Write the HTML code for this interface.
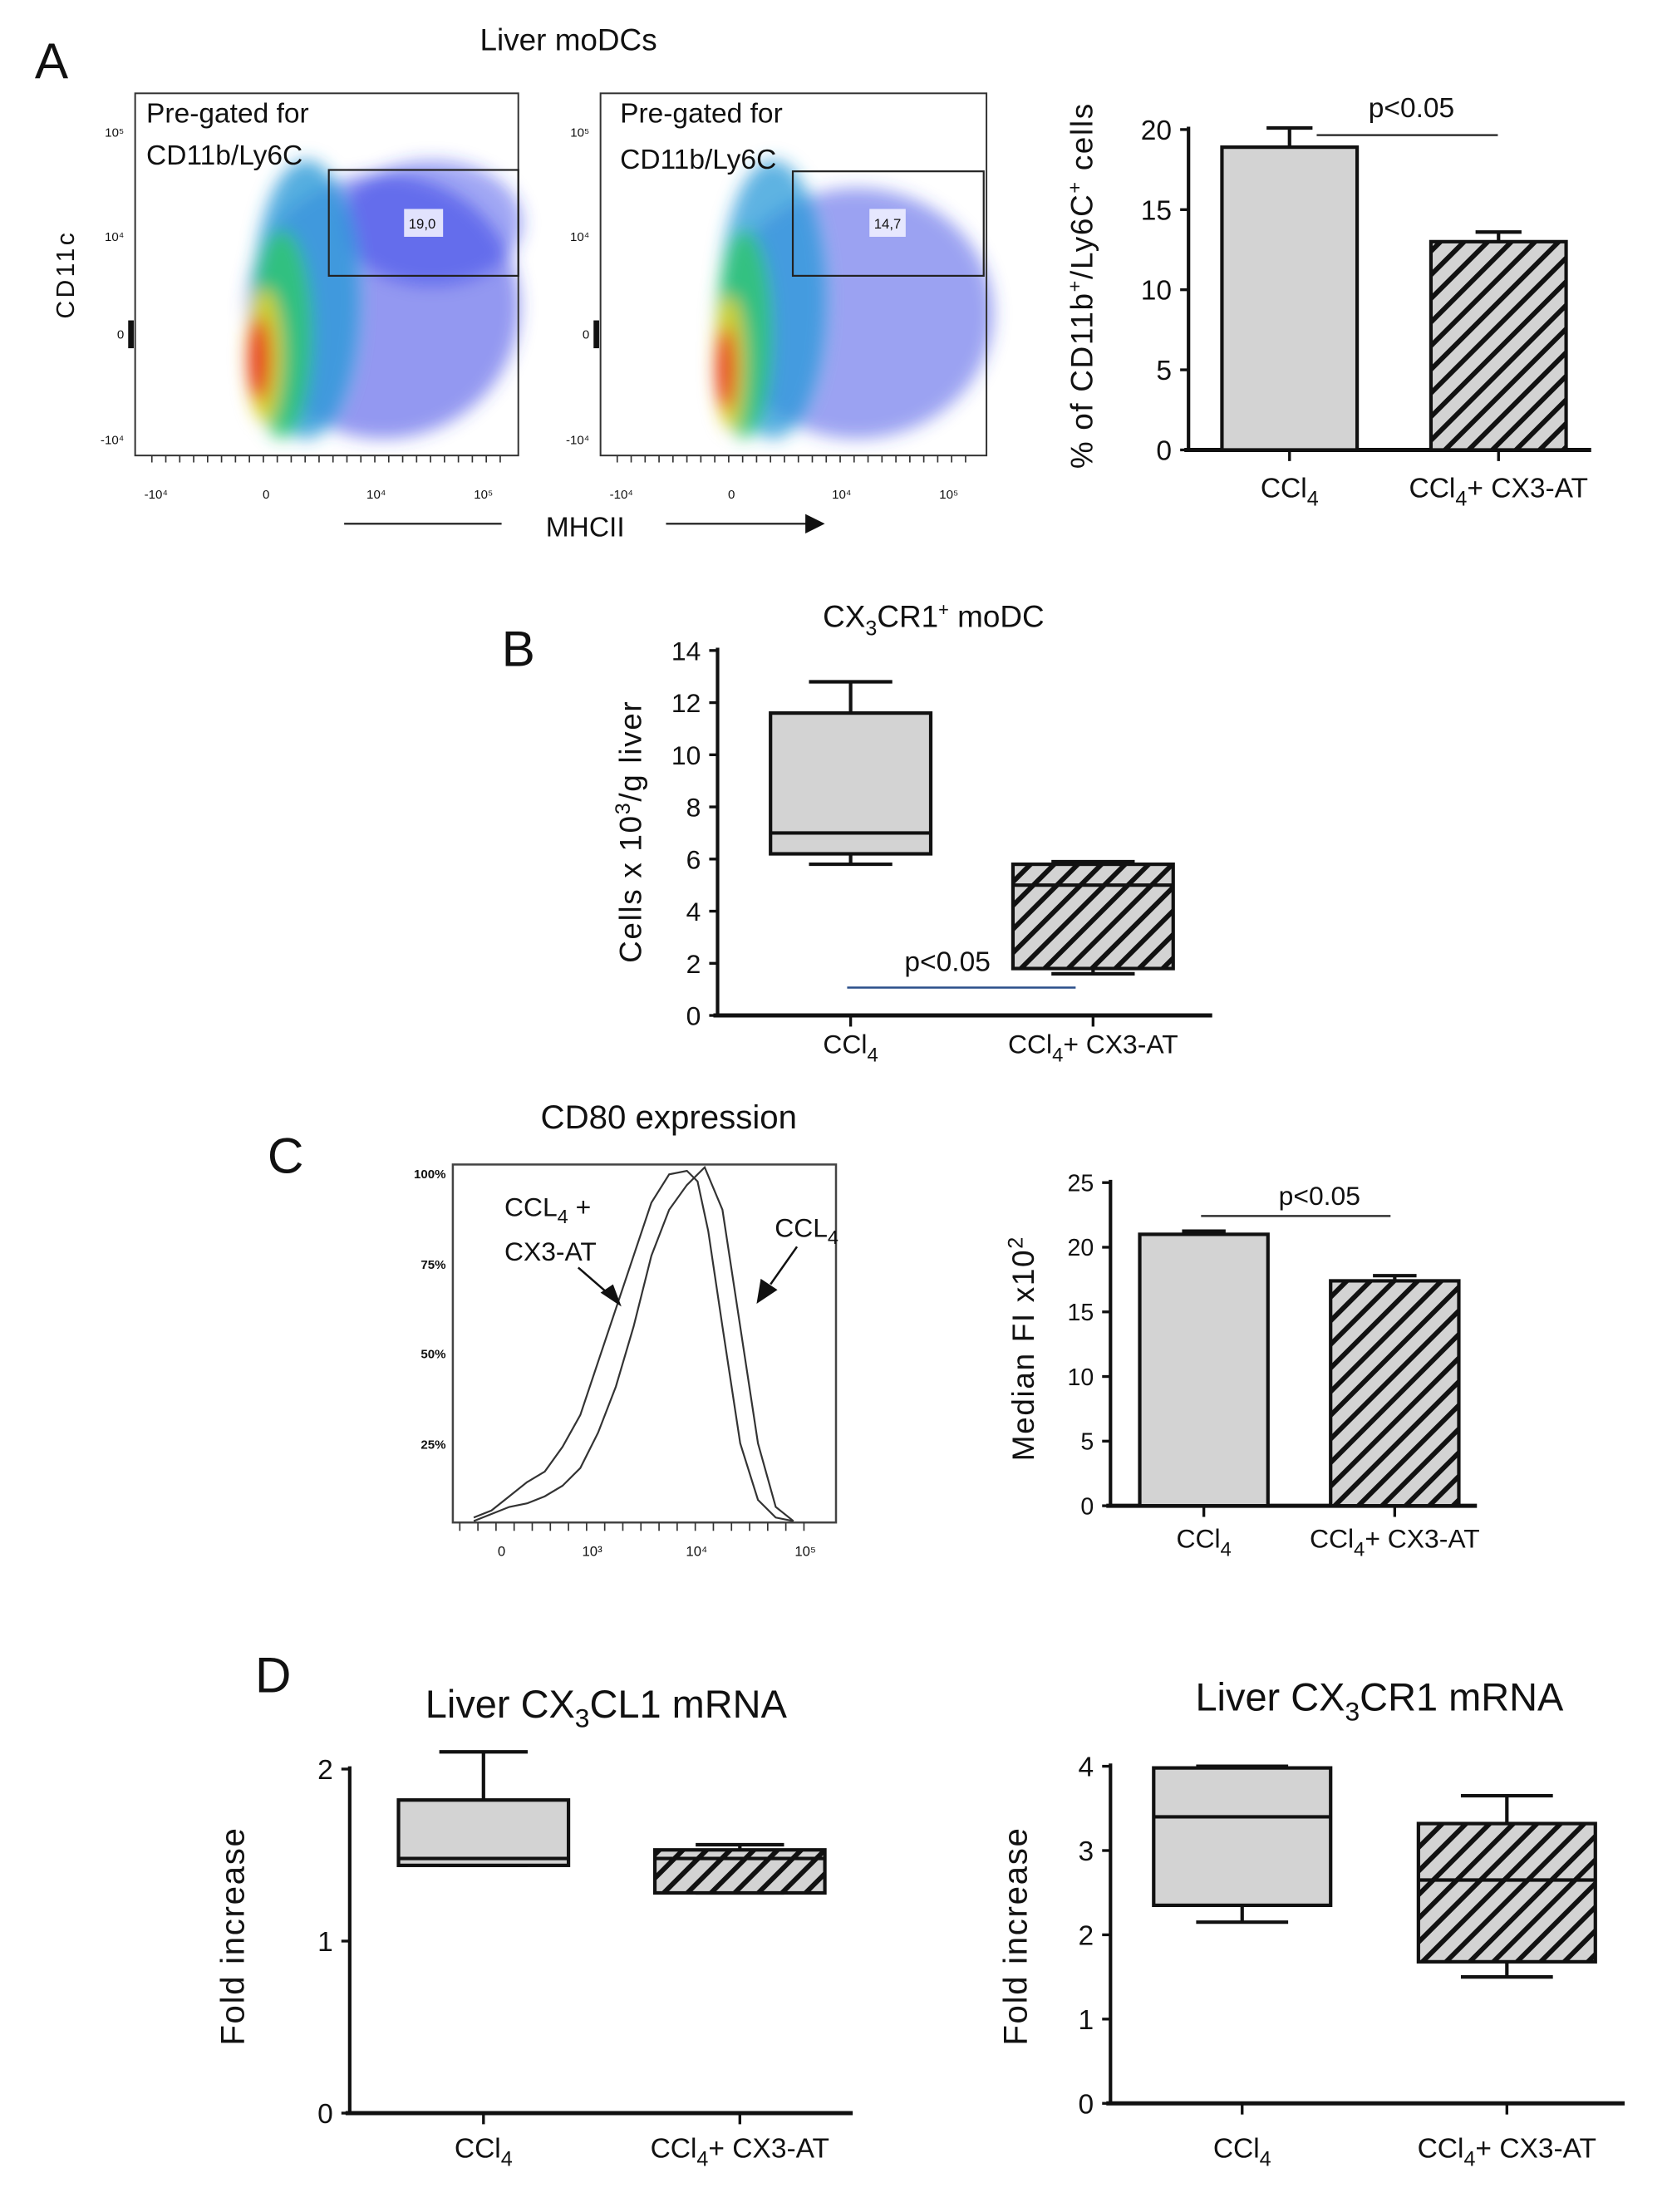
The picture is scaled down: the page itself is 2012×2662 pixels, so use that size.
<!DOCTYPE html>
<html><head><meta charset="utf-8"><title>Liver moDC figure</title>
<style>
html,body{margin:0;padding:0;background:#fff;}
svg{display:block;}
text{font-family:"Liberation Sans",sans-serif;fill:#111;}
</style></head>
<body>
<svg id="fig" xmlns="http://www.w3.org/2000/svg" width="2012" height="2662" viewBox="0 0 1200 1588" preserveAspectRatio="none">
<defs>
<pattern id="hatch" patternUnits="userSpaceOnUse" width="12" height="12" patternTransform="rotate(45)">
<rect width="12" height="12" fill="#d3d3d3"/><rect x="0" y="0" width="3.5" height="12" fill="#111"/>
</pattern>
<filter id="blur6"><feGaussianBlur stdDeviation="6"/></filter>
</defs>

<!-- Panel A -->
<text x="25" y="56" font-size="36">A</text>
<text x="408" y="36" font-size="22" text-anchor="middle">Liver moDCs</text>

<g>
<g filter="url(#blur6)">
<ellipse cx="275" cy="220" rx="98" ry="95" fill="#3a46e6" opacity="0.55"/>
<ellipse cx="310" cy="160" rx="65" ry="45" fill="#2a3ae6" opacity="0.45"/>
<ellipse cx="220" cy="215" rx="38" ry="100" fill="#2a9ad8" opacity="0.8"/>
<ellipse cx="202" cy="240" rx="22" ry="75" fill="#30c870" opacity="0.85"/>
<ellipse cx="190" cy="255" rx="13" ry="48" fill="#e0d020" opacity="0.9"/>
<ellipse cx="186" cy="258" rx="8" ry="30" fill="#e83020"/>
</g>
<rect x="97" y="67" width="275" height="260" fill="none" stroke="#333" stroke-width="1.2"/>
<rect x="236" y="122" width="136" height="76" fill="none" stroke="#222" stroke-width="1.3"/>
<rect x="290" y="150" width="28" height="20" fill="#eef" opacity="0.9"/>
<text x="303" y="164" font-size="10" text-anchor="middle">19,0</text>
<text x="105" y="88" font-size="20">Pre-gated for</text>
<text x="105" y="118" font-size="20">CD11b/Ly6C</text>
</g>

<g>
<g filter="url(#blur6)">
<ellipse cx="615" cy="225" rx="98" ry="90" fill="#3a46e6" opacity="0.5"/>
<ellipse cx="555" cy="215" rx="38" ry="100" fill="#2a9ad8" opacity="0.75"/>
<ellipse cx="534" cy="240" rx="20" ry="75" fill="#30c870" opacity="0.85"/>
<ellipse cx="524" cy="260" rx="11" ry="48" fill="#e0d020" opacity="0.9"/>
<ellipse cx="521" cy="265" rx="7" ry="30" fill="#e83020"/>
</g>
<rect x="431" y="67" width="277" height="260" fill="none" stroke="#333" stroke-width="1.2"/>
<rect x="569" y="123" width="137" height="75" fill="none" stroke="#222" stroke-width="1.3"/>
<rect x="624" y="150" width="26" height="20" fill="#eef" opacity="0.9"/>
<text x="637" y="164" font-size="10" text-anchor="middle">14,7</text>
<text x="445" y="88" font-size="20">Pre-gated for</text>
<text x="445" y="121" font-size="20">CD11b/Ly6C</text>
</g>
<g id="flowticks"></g>
<text transform="translate(53,197) rotate(-90)" font-size="18" text-anchor="middle" letter-spacing="2">CD11c</text>
<line x1="247" y1="376" x2="360" y2="376" stroke="#333" stroke-width="1.5"/>
<text x="420" y="385" font-size="20" text-anchor="middle">MHCII</text>
<line x1="478" y1="376" x2="580" y2="376" stroke="#333" stroke-width="1.5"/>
<polygon points="578,369 592,376 578,383" fill="#111"/>

<g id="chartA"></g>
<g id="chartB"></g>

<!-- Panel C -->
<text x="192" y="842" font-size="36">C</text>
<text x="480" y="810" font-size="24" text-anchor="middle">CD80 expression</text>
<g id="hist"></g>
<g id="chartC"></g>

<!-- Panel D -->
<text x="183" y="1215" font-size="36">D</text>
<g id="chartD1"></g>
<g id="chartD2"></g>
</svg>

<script>
// ---------- data ----------
const groups = ["CCl4", "CCl4+ CX3-AT"];
// Panel A bar chart
const aMeans = [18.9, 13.0];
const aErr = [1.2, 0.6];
const aTicks = [0, 5, 10, 15, 20];
// Panel B box plot [min, q1, median, q3, max]
const bBoxCCl4 = [5.8, 6.2, 7.0, 11.6, 12.8];
const bBoxCX3 = [1.6, 1.8, 5.0, 5.8, 5.9];
const bTicks = [0, 2, 4, 6, 8, 10, 12, 14];
// Panel C bar chart
const cMeans = [21.0, 17.4];
const cErr = [0.25, 0.4];
const cTicks = [0, 5, 10, 15, 20, 25];
// Panel D1 box plot
const d1BoxCCl4 = [1.44, 1.44, 1.48, 1.82, 2.1];
const d1BoxCX3 = [1.28, 1.28, 1.48, 1.53, 1.56];
const d1Ticks = [0, 1, 2];
// Panel D2 box plot
const d2BoxCCl4 = [2.15, 2.35, 3.4, 3.98, 4.0];
const d2BoxCX3 = [1.5, 1.68, 2.65, 3.32, 3.65];
const d2Ticks = [0, 1, 2, 3, 4];
// CD80 histogram curves (log-position 0..1 across axis, % of max)
const histPosCX3 = [0,0.05,0.1,0.15,0.2,0.25,0.3,0.35,0.4,0.45,0.5,0.55,0.6,0.63,0.66,0.7,0.75,0.8,0.85,0.9];
const histValCX3 = [1,3,7,11,14,21,30,45,60,75,90,98,99,96,82,55,22,6,1,0];
const histPosCCl4 = [0,0.05,0.1,0.15,0.2,0.25,0.3,0.35,0.4,0.45,0.5,0.55,0.6,0.65,0.7,0.75,0.8,0.85,0.9];
const histValCCl4 = [0,2,4,5,7,10,15,25,38,55,75,88,95,100,88,55,22,4,0];

const NS = "http://www.w3.org/2000/svg";
function mk(parent, tag, attrs, text) {
  const e = document.createElementNS(NS, tag);
  for (const k in attrs) e.setAttribute(k, attrs[k]);
  if (text !== undefined) e.textContent = text;
  parent.appendChild(e);
  return e;
}
function groupLabel(g, x, y, i, fs) {
  const t = mk(g, "text", {x: x, y: y, "font-size": fs, "text-anchor": "middle"});
  
  
  const a = document.createElementNS(NS, "tspan"); a.textContent = "CCl"; t.appendChild(a);
  const b = document.createElementNS(NS, "tspan"); b.textContent = "4"; b.setAttribute("dy", "6"); b.setAttribute("font-size", fs * 0.75); t.appendChild(b);
  if (i === 1) { const c = document.createElementNS(NS, "tspan"); c.textContent = "+ CX3-AT"; c.setAttribute("dy", "-6"); t.appendChild(c); }
}
function axis(g, cfg) {
  const y = v => cfg.y0 - (v - 0) * (cfg.y0 - cfg.yTop) / (cfg.vmax);
  mk(g, "line", {x1: cfg.ax, y1: y(cfg.vmax) - 2, x2: cfg.ax, y2: cfg.y0, stroke: "#111", "stroke-width": 2.5});
  mk(g, "line", {x1: cfg.ax - 3, y1: cfg.y0, x2: cfg.xEnd, y2: cfg.y0, stroke: "#111", "stroke-width": 3});
  cfg.ticks.forEach(tv => {
    mk(g, "line", {x1: cfg.ax - 6, y1: y(tv), x2: cfg.ax, y2: y(tv), stroke: "#111", "stroke-width": 2});
    const t = mk(g, "text", {x: cfg.ax - 12, y: y(tv) + cfg.fs * 0.36, "font-size": cfg.fs, "text-anchor": "end"}, tv);
    
    
  });
  return y;
}
function ylab(g, x, y, fs, parts, name) {
  const t = mk(g, "text", {transform: `translate(${x},${y}) rotate(-90)`, "font-size": fs, "text-anchor": "middle", "letter-spacing": "1"});
  
  
  parts.forEach(p => { const s = document.createElementNS(NS, "tspan"); s.textContent = p[0]; if (p[1]) s.setAttribute("dy", p[1]); if (p[2]) s.setAttribute("font-size", p[2]); t.appendChild(s); });
}
function barChart(g, cfg, means, errs) {
  const y = axis(g, cfg);
  means.forEach((m, i) => {
    const x0 = cfg.bx[i], w = cfg.bw, cx = x0 + w / 2;
    mk(g, "line", {x1: cx, y1: y(m), x2: cx, y2: y(m + errs[i]), stroke: "#111", "stroke-width": 2.5});
    mk(g, "line", {x1: cx - w * 0.17, y1: y(m + errs[i]), x2: cx + w * 0.17, y2: y(m + errs[i]), stroke: "#111", "stroke-width": 2.5});
    const r = mk(g, "rect", {x: x0, y: y(m), width: w, height: cfg.y0 - y(m), fill: i ? "url(#hatch)" : "#d3d3d3", stroke: "#111", "stroke-width": 2.5});
    
    
    mk(g, "line", {x1: cx, y1: cfg.y0, x2: cx, y2: cfg.y0 + 8, stroke: "#111", "stroke-width": 2});
    groupLabel(g, cx, cfg.labY, i, cfg.lfs);
  });
  return y;
}
function boxChart(g, cfg, boxes) {
  const y = axis(g, cfg);
  boxes.forEach((b, i) => {
    const x0 = cfg.bx[i], w = cfg.bw, cx = x0 + w / 2;
    mk(g, "line", {x1: cx, y1: y(b[0]), x2: cx, y2: y(b[4]), stroke: "#111", "stroke-width": 2.5});
    mk(g, "line", {x1: cx - w * 0.26, y1: y(b[4]), x2: cx + w * 0.26, y2: y(b[4]), stroke: "#111", "stroke-width": 2.5});
    mk(g, "line", {x1: cx - w * 0.26, y1: y(b[0]), x2: cx + w * 0.26, y2: y(b[0]), stroke: "#111", "stroke-width": 2.5});
    const r = mk(g, "rect", {x: x0, y: y(b[3]), width: w, height: y(b[1]) - y(b[3]), fill: i ? "url(#hatch)" : "#d3d3d3", stroke: "#111", "stroke-width": 2.5});
    
    
    mk(g, "line", {x1: x0, y1: y(b[2]), x2: x0 + w, y2: y(b[2]), stroke: "#111", "stroke-width": 2.5});
    mk(g, "line", {x1: cx, y1: cfg.y0, x2: cx, y2: cfg.y0 + 8, stroke: "#111", "stroke-width": 2});
    groupLabel(g, cx, cfg.labY, i, cfg.lfs);
  });
  return y;
}

// Flow axis labels
(function(){
  const g = document.getElementById("flowticks");
  [[97, 0], [431, 334]].forEach(([bx, dx]) => {
    [["10⁵",95],["10⁴",170],["0",240],["-10⁴",316]].forEach(([s, yy]) => mk(g, "text", {x: bx - 8, y: yy + 3, "font-size": 9, "text-anchor": "end", fill: "#333"}, s));
    [["-10⁴",112],["0",191],["10⁴",270],["10⁵",347]].forEach(([s, xx]) => mk(g, "text", {x: xx + dx, y: 358, "font-size": 9, "text-anchor": "middle", fill: "#333"}, s));
    mk(g, "rect", {x: bx - 5, y: 230, width: 4, height: 20, fill: "#111"});
    for (let k = 0; k < 26; k++) mk(g, "line", {x1: bx + 12 + k * 10, y1: 327, x2: bx + 12 + k * 10, y2: 332, stroke: "#333", "stroke-width": 1});
  });
})();

// Chart A
(function(){
  const g = document.getElementById("chartA");
  barChart(g, {ax: 853, y0: 323, yTop: 93, vmax: 20, xEnd: 1142, ticks: aTicks, fs: 20, bx: [877, 1027], bw: 97, labY: 357, lfs: 20}, aMeans, aErr);
  mk(g, "line", {x1: 945, y1: 97, x2: 1075, y2: 97, stroke: "#333", "stroke-width": 1.5});
  mk(g, "text", {x: 1013, y: 84, "font-size": 20, "text-anchor": "middle"}, "p<0.05");
  ylab(g, 784, 205, 22, [["% of CD11b"],["+","-8","14"],["/Ly6C","8","22"],["+","-8","14"],[" cells","8","22"]], "y-axis-title-a");
})();

// Chart B
(function(){
  const g = document.getElementById("chartB");
  mk(g, "text", {x: 360, y: 478, "font-size": 36}, "B");
  const t = mk(g, "text", {x: 670, y: 450, "font-size": 22, "text-anchor": "middle"});
  [["CX"],["3","6","15"],["CR1","-6","22"],["+","-8","13"],[" moDC","8","22"]].forEach(p => { const s = document.createElementNS(NS, "tspan"); s.textContent = p[0]; if (p[1]) s.setAttribute("dy", p[1]); if (p[2]) s.setAttribute("font-size", p[2]); t.appendChild(s); });
  boxChart(g, {ax: 515, y0: 729, yTop: 467, vmax: 14, xEnd: 870, ticks: bTicks, fs: 19, bx: [553, 727], bw: 115, labY: 756, lfs: 19}, [bBoxCCl4, bBoxCX3]);
  mk(g, "line", {x1: 608, y1: 709, x2: 772, y2: 709, stroke: "#2a4f8a", "stroke-width": 1.5});
  mk(g, "text", {x: 680, y: 697, "font-size": 20, "text-anchor": "middle"}, "p<0.05");
  ylab(g, 460, 597, 22, [["Cells x 10"],["3","-8","15"],["/g liver","8","22"]], "y-axis-title-b");
})();

// Histogram C
(function(){
  const g = document.getElementById("hist");
  const X0 = 340, X1 = 595, Y0 = 1092, Y1 = 838;
  const px = p => X0 + p * (X1 - X0) / 0.9 * 0.9;
  const py = v => Y0 - v * (Y0 - Y1) / 100;
  mk(g, "rect", {x: 325, y: 836, width: 275, height: 257, fill: "none", stroke: "#444", "stroke-width": 1.5});
  [["100%",843],["75%",908],["50%",972],["25%",1037]].forEach(([s, yy]) => mk(g, "text", {x: 320, y: yy + 3, "font-size": 9, "text-anchor": "end", "font-weight": "bold"}, s));
  [["0",360],["10³",425],["10⁴",500],["10⁵",578]].forEach(([s, xx]) => mk(g, "text", {x: xx, y: 1117, "font-size": 10, "text-anchor": "middle"}, s));
  for (let k = 0; k < 20; k++) mk(g, "line", {x1: 330 + k * 13, y1: 1093, x2: 330 + k * 13, y2: 1099, stroke: "#333"});
  const draw = (pos, val, name) => {
    const p = mk(g, "polyline", {points: pos.map((q, i) => px(q) + "," + py(val[i])).join(" "), fill: "none", stroke: "#333", "stroke-width": 1.3});
    
    
  };
  draw(histPosCX3, histValCX3, "histogram-ccl4-cx3at");
  draw(histPosCCl4, histValCCl4, "histogram-ccl4");
  const t1 = mk(g, "text", {x: 362, y: 873, "font-size": 19});
  [["CCL"],["4","5","14"],[" +","-5","19"]].forEach(p => { const s = document.createElementNS(NS, "tspan"); s.textContent = p[0]; if (p[1]) s.setAttribute("dy", p[1]); if (p[2]) s.setAttribute("font-size", p[2]); t1.appendChild(s); });
  mk(g, "text", {x: 362, y: 905, "font-size": 19}, "CX3-AT");
  const t2 = mk(g, "text", {x: 556, y: 888, "font-size": 19});
  [["CCL"],["4","5","14"]].forEach(p => { const s = document.createElementNS(NS, "tspan"); s.textContent = p[0]; if (p[1]) s.setAttribute("dy", p[1]); if (p[2]) s.setAttribute("font-size", p[2]); t2.appendChild(s); });
  mk(g, "line", {x1: 415, y1: 910, x2: 438, y2: 930, stroke: "#111", "stroke-width": 1.5});
  mk(g, "polygon", {points: "431,928 446,938 440,922", fill: "#111"});
  mk(g, "line", {x1: 572, y1: 895, x2: 553, y2: 922, stroke: "#111", "stroke-width": 1.5});
  mk(g, "polygon", {points: "546,918 543,936 558,926", fill: "#111"});
})();

// Chart C
(function(){
  const g = document.getElementById("chartC");
  barChart(g, {ax: 797, y0: 1081, yTop: 849, vmax: 25, xEnd: 1060, ticks: cTicks, fs: 17, bx: [818, 955], bw: 92, labY: 1111, lfs: 19}, cMeans, cErr);
  mk(g, "line", {x1: 862, y1: 873, x2: 998, y2: 873, stroke: "#333", "stroke-width": 1.5});
  mk(g, "text", {x: 947, y: 865, "font-size": 19, "text-anchor": "middle"}, "p<0.05");
  ylab(g, 742, 968, 22, [["Median FI x10"],["2","-8","15"]], "y-axis-title-c");
})();

// Chart D1
(function(){
  const g = document.getElementById("chartD1");
  const t = mk(g, "text", {x: 435, y: 1233, "font-size": 28, "text-anchor": "middle"});
  [["Liver CX"],["3","7","19"],["CL1 mRNA","-7","28"]].forEach(p => { const s = document.createElementNS(NS, "tspan"); s.textContent = p[0]; if (p[1]) s.setAttribute("dy", p[1]); if (p[2]) s.setAttribute("font-size", p[2]); t.appendChild(s); });
  boxChart(g, {ax: 251, y0: 1517, yTop: 1270, vmax: 2, xEnd: 612, ticks: d1Ticks, fs: 20, bx: [286, 470], bw: 122, labY: 1549, lfs: 20}, [d1BoxCCl4, d1BoxCX3]);
  ylab(g, 175, 1390, 24, [["Fold increase"]], "y-axis-title-d1");
})();

// Chart D2
(function(){
  const g = document.getElementById("chartD2");
  const t = mk(g, "text", {x: 990, y: 1228, "font-size": 28, "text-anchor": "middle"});
  [["Liver CX"],["3","7","19"],["CR1 mRNA","-7","28"]].forEach(p => { const s = document.createElementNS(NS, "tspan"); s.textContent = p[0]; if (p[1]) s.setAttribute("dy", p[1]); if (p[2]) s.setAttribute("font-size", p[2]); t.appendChild(s); });
  boxChart(g, {ax: 797, y0: 1510, yTop: 1268, vmax: 4, xEnd: 1166, ticks: d2Ticks, fs: 20, bx: [828, 1018], bw: 127, labY: 1549, lfs: 20}, [d2BoxCCl4, d2BoxCX3]);
  ylab(g, 737, 1390, 24, [["Fold increase"]], "y-axis-title-d2");
})();
</script>
</body></html>
